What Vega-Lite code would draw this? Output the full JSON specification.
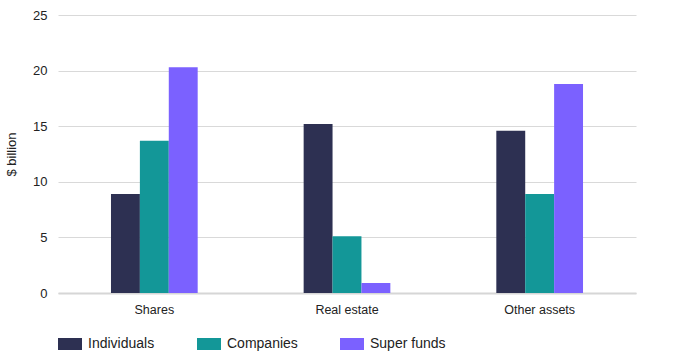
{
  "$schema": "https://vega.github.io/schema/vega-lite/v6.json",
  "autosize": "none",
  "width": 578,
  "height": 278,
  "padding": {"left": 58, "top": 15, "right": 53, "bottom": 62},
  "background": "white",
  "config": {
    "font": "Liberation Sans",
    "view": {"stroke": null},
    "axis": {"labelColor": "#222222", "titleColor": "#222222", "labelFont": "Liberation Sans", "titleFont": "Liberation Sans"}
  },
  "data": {
    "values": [
      {"asset": "Shares", "holder": "Individuals", "value": 8.9},
      {"asset": "Shares", "holder": "Companies", "value": 13.7},
      {"asset": "Shares", "holder": "Super funds", "value": 20.3},
      {"asset": "Real estate", "holder": "Individuals", "value": 15.2},
      {"asset": "Real estate", "holder": "Companies", "value": 5.1},
      {"asset": "Real estate", "holder": "Super funds", "value": 0.9},
      {"asset": "Other assets", "holder": "Individuals", "value": 14.6},
      {"asset": "Other assets", "holder": "Companies", "value": 8.9},
      {"asset": "Other assets", "holder": "Super funds", "value": 18.8}
    ]
  },
  "mark": {"type": "bar"},
  "encoding": {
    "x": {
      "field": "asset",
      "type": "nominal",
      "sort": ["Shares", "Real estate", "Other assets"],
      "scale": {"paddingInner": 0.55, "paddingOuter": 0.275},
      "axis": {
        "title": null,
        "labelAngle": 0,
        "labelFontSize": 12.5,
        "labelPadding": 10,
        "ticks": false,
        "domainColor": "#d6d6d6",
        "domainWidth": 2,
        "grid": false
      }
    },
    "xOffset": {
      "field": "holder",
      "type": "nominal",
      "sort": ["Individuals", "Companies", "Super funds"],
      "scale": {"paddingInner": 0, "paddingOuter": 0}
    },
    "y": {
      "field": "value",
      "type": "quantitative",
      "scale": {"domain": [0, 25]},
      "axis": {
        "title": "$ billion",
        "titleFontSize": 13,
        "titleFontWeight": "normal",
        "titlePadding": 14,
        "labelFontSize": 13,
        "labelPadding": 11,
        "values": [0, 5, 10, 15, 20, 25],
        "ticks": false,
        "domain": false,
        "gridColor": "#d9d9d9",
        "gridWidth": 1
      }
    },
    "color": {
      "field": "holder",
      "type": "nominal",
      "sort": ["Individuals", "Companies", "Super funds"],
      "scale": {"domain": ["Individuals", "Companies", "Super funds"], "range": ["#2d3052", "#139798", "#7b61ff"]},
      "legend": {
        "title": null,
        "orient": "bottom",
        "direction": "horizontal",
        "symbolType": "M-1,-0.5H1V0.5H-1Z",
        "symbolSize": 576,
        "symbolStrokeWidth": 0,
        "labelFontSize": 14,
        "labelColor": "#222222",
        "labelFont": "Liberation Sans",
        "labelOffset": 6,
        "columnPadding": 42,
        "offset": 16
      }
    }
  }
}
